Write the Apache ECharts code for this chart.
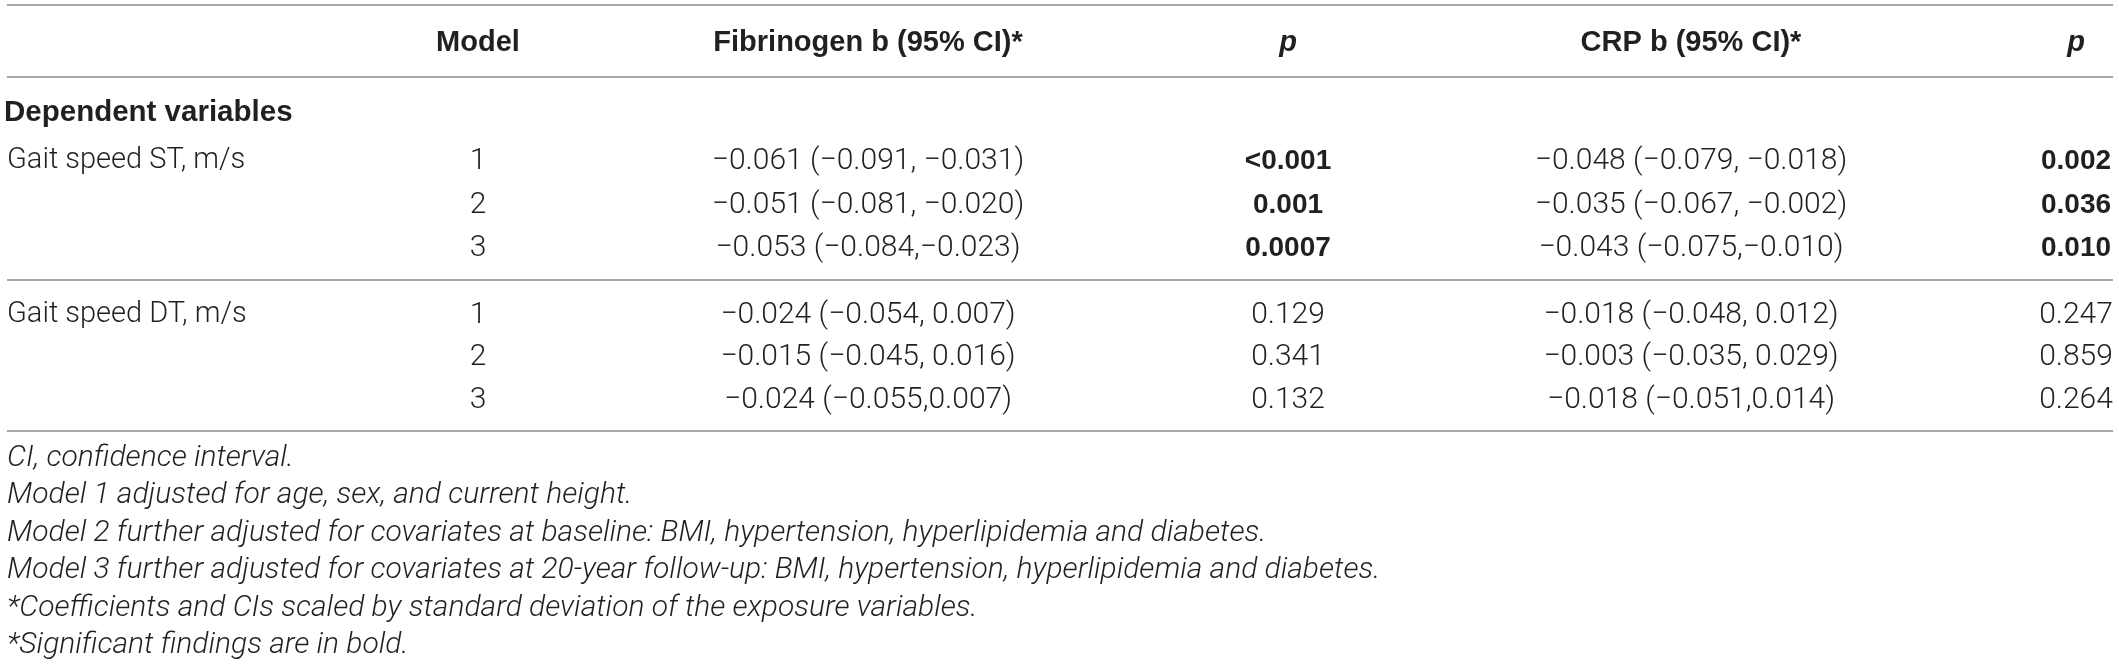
<!DOCTYPE html>
<html>
<head>
<meta charset="utf-8">
<script src="https://cdn.jsdelivr.net/npm/echarts@6/dist/echarts.min.js"></script>
<style>
  html, body { margin: 0; padding: 0; background: #fff; }
  #main { width: 2119px; height: 666px; }
</style>
</head>
<body>
<div id="main"></div>
<script>
// table content
const HEADERS = ['', 'Model', 'Fibrinogen b (95% CI)*', 'p', 'CRP b (95% CI)*', 'p']
const SECTION = 'Dependent variables'
const ROW_LABELS = ['Gait speed ST, m/s', 'Gait speed DT, m/s']
const MODELS = ['1', '2', '3']

const FIB_ST = ['\u22120.061 (\u22120.091, \u22120.031)', '\u22120.051 (\u22120.081, \u22120.020)', '\u22120.053 (\u22120.084,\u22120.023)']
const FIB_DT = ['\u22120.024 (\u22120.054, 0.007)', '\u22120.015 (\u22120.045, 0.016)', '\u22120.024 (\u22120.055,0.007)']
const P_FIB_ST = ['<0.001', '0.001', '0.0007']
const P_FIB_DT = ['0.129', '0.341', '0.132']

const CRP_ST = ['\u22120.048 (\u22120.079, \u22120.018)', '\u22120.035 (\u22120.067, \u22120.002)', '\u22120.043 (\u22120.075,\u22120.010)']
const CRP_DT = ['\u22120.018 (\u22120.048, 0.012)', '\u22120.003 (\u22120.035, 0.029)', '\u22120.018 (\u22120.051,0.014)']
const P_CRP_ST = ['0.002', '0.036', '0.010']
const P_CRP_DT = ['0.247', '0.859', '0.264']

const FOOTNOTES = [
  'CI, confidence interval.',
  'Model 1 adjusted for age, sex, and current height.',
  'Model 2 further adjusted for covariates at baseline: BMI, hypertension, hyperlipidemia and diabetes.',
  'Model 3 further adjusted for covariates at 20-year follow-up: BMI, hypertension, hyperlipidemia and diabetes.',
  '*Coefficients and CIs scaled by standard deviation of the exposure variables.',
  '*Significant findings are in bold.'
]

// layout (pixels of the 2119 x 666 page)
const W = 2119, H = 666
const COL_X = [7, 478, 868, 1288, 1691, 2076]
const COL_ALIGN = ['left', 'center', 'center', 'center', 'center', 'center']
const HEADER_Y = 43
const SECTION_Y = 113
const GROUP_Y = [[161, 205, 248], [315, 357, 400]]
const RULES_Y = [5, 77, 280, 431]
const FOOT_Y0 = 458, FOOT_STEP = 37.5

const BODY_FONT = 'Roboto, "Liberation Sans", sans-serif'
const BOLD_FONT = '"Liberation Sans", Arial, sans-serif'
const INK = '#231f20'

const isSig = p => parseFloat(p.replace('<', '')) < 0.05

// build cells
const cells = []
HEADERS.forEach((t, c) => {
  if (t) cells.push({ x: COL_X[c], y: HEADER_Y, text: t, kind: t === 'p' ? 'headItalic' : 'head', align: COL_ALIGN[c] })
})
cells.push({ x: 4, y: SECTION_Y, text: SECTION, kind: 'head', align: 'left', size: 29.5 })

const groups = [
  [FIB_ST, P_FIB_ST, CRP_ST, P_CRP_ST],
  [FIB_DT, P_FIB_DT, CRP_DT, P_CRP_DT]
]
groups.forEach((g, gi) => {
  MODELS.forEach((m, r) => {
    const y = GROUP_Y[gi][r]
    if (r === 0) cells.push({ x: COL_X[0], y, text: ROW_LABELS[gi], kind: 'label', align: 'left' })
    cells.push({ x: COL_X[1], y, text: m, kind: 'body', align: 'center' })
    cells.push({ x: COL_X[2], y, text: g[0][r], kind: 'body', align: 'center' })
    cells.push({ x: COL_X[3], y, text: g[1][r], kind: isSig(g[1][r]) ? 'bold' : 'body', align: 'center' })
    cells.push({ x: COL_X[4], y, text: g[2][r], kind: 'body', align: 'center' })
    cells.push({ x: COL_X[5], y, text: g[3][r], kind: isSig(g[3][r]) ? 'bold' : 'body', align: 'center' })
  })
})
FOOTNOTES.forEach((t, i) => {
  cells.push({ x: 7, y: FOOT_Y0 + i * FOOT_STEP, text: t, kind: 'foot', align: 'left' })
})

function cellStyle (c) {
  const base = { text: c.text, fill: INK, align: c.align, verticalAlign: 'middle' }
  if (c.kind === 'head') return Object.assign(base, { fontFamily: BOLD_FONT, fontWeight: 'bold', fontSize: c.size || 29 })
  if (c.kind === 'headItalic') return Object.assign(base, { fontFamily: BOLD_FONT, fontWeight: 'bold', fontStyle: 'italic', fontSize: 29 })
  if (c.kind === 'bold') return Object.assign(base, { fontFamily: BOLD_FONT, fontWeight: 'bold', fontSize: 28 })
  if (c.kind === 'foot') return Object.assign(base, { fontFamily: BODY_FONT, fontWeight: 300, fontStyle: 'italic', fontSize: 30 })
  if (c.kind === 'label') return Object.assign(base, { fontFamily: BODY_FONT, fontWeight: 300, fontSize: 29 })
  return Object.assign(base, { fontFamily: BODY_FONT, fontWeight: 300, fontSize: 30 })
}

const chart = echarts.init(document.getElementById('main'))
chart.setOption({
  backgroundColor: '#fff',
  animation: false,
  grid: { left: 0, right: 0, top: 0, bottom: 0 },
  xAxis: { type: 'value', min: 0, max: W, show: false },
  yAxis: { type: 'value', min: 0, max: H, inverse: true, show: false },
  series: [
    {
      type: 'custom',
      name: 'rules',
      data: RULES_Y.map(y => [7, y]),
      encode: { x: 0, y: 1 },
      renderItem: (params, api) => {
        const a = api.coord([api.value(0), api.value(1)])
        const b = api.coord([2113, api.value(1)])
        return {
          type: 'line',
          shape: { x1: a[0], y1: a[1], x2: b[0], y2: b[1] },
          style: { stroke: '#a8a8a8', lineWidth: 2 }
        }
      }
    },
    {
      type: 'custom',
      name: 'cells',
      data: cells.map((c, i) => [c.x, c.y, i]),
      encode: { x: 0, y: 1 },
      renderItem: (params, api) => {
        const c = cells[params.dataIndex]
        const p = api.coord([api.value(0), api.value(1)])
        return { type: 'text', x: p[0], y: p[1], style: cellStyle(c) }
      }
    }
  ]
})
</script>
</body>
</html>
